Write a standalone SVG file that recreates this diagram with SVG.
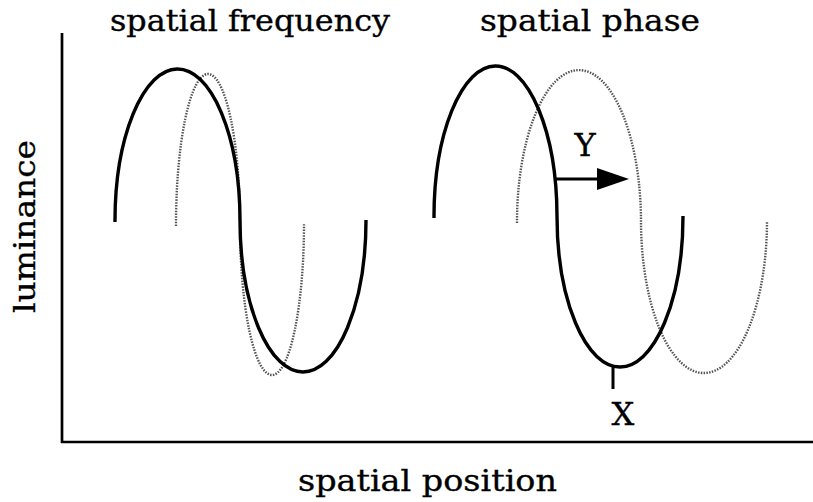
<svg xmlns="http://www.w3.org/2000/svg" width="813" height="502" viewBox="0 0 813 502">
<style>
.bg{fill:#fff}
.ax{stroke:#000;stroke-width:2.7;fill:none}
.solid{stroke:#000;stroke-width:3.4;fill:none;stroke-linecap:butt}
.dot{stroke:#555;stroke-width:2.4;fill:none;stroke-dasharray:1.5 1.3}
.lbl{font-family:"DejaVu Serif","Liberation Serif",serif;fill:#000;stroke:#000;stroke-width:0.35}
.conn{stroke:#000;stroke-width:3;fill:none}
</style>
<rect class="bg" x="0" y="0" width="813" height="502"/>
<g id="axes">
<line class="ax" x1="62" y1="33" x2="62" y2="443"/>
<line class="ax" x1="61" y1="442" x2="813" y2="442"/>
</g>
<g id="frequency-curves">
<path class="dot" d="M176,226 A32,151 0 0 1 240,224 A32,151 0 0 0 304,224"/>
<path class="solid" d="M115,222 A62.5,152 0 0 1 240,220 A63,152 0 0 0 366,220"/>
</g>
<g id="phase-curves">
<path class="dot" d="M517,223 A62,152 0 0 1 641,221 A63,152 0 0 0 767,221"/>
<path class="solid" d="M434,218 A61.5,151 0 0 1 557,216 A63,151 0 0 0 683,216"/>
</g>
<g id="connectors">
<line class="conn" x1="555" y1="179" x2="600" y2="179"/>
<polygon points="597,168 629,179 597,190" fill="#000"/>
<line class="conn" x1="613" y1="366" x2="613" y2="389" stroke-width="2.6"/>
</g>
<g id="title-frequency"><text class="lbl" x="110" y="31" font-size="30" textLength="280" lengthAdjust="spacingAndGlyphs">spatial frequency</text></g>
<g id="title-phase"><text class="lbl" x="480" y="31" font-size="30" textLength="220" lengthAdjust="spacingAndGlyphs">spatial phase</text></g>
<g id="xlabel"><text class="lbl" x="298" y="491" font-size="30" textLength="259" lengthAdjust="spacingAndGlyphs">spatial position</text></g>
<g id="ylabel"><text class="lbl" transform="translate(35,313) rotate(-90)" x="0" y="0" font-size="30" textLength="173" lengthAdjust="spacingAndGlyphs">luminance</text></g>
<g id="label-Y"><text class="lbl" x="585" y="156" font-size="32" text-anchor="middle">Y</text></g>
<g id="label-X"><text class="lbl" x="623" y="425" font-size="32" text-anchor="middle">X</text></g>
</svg>
